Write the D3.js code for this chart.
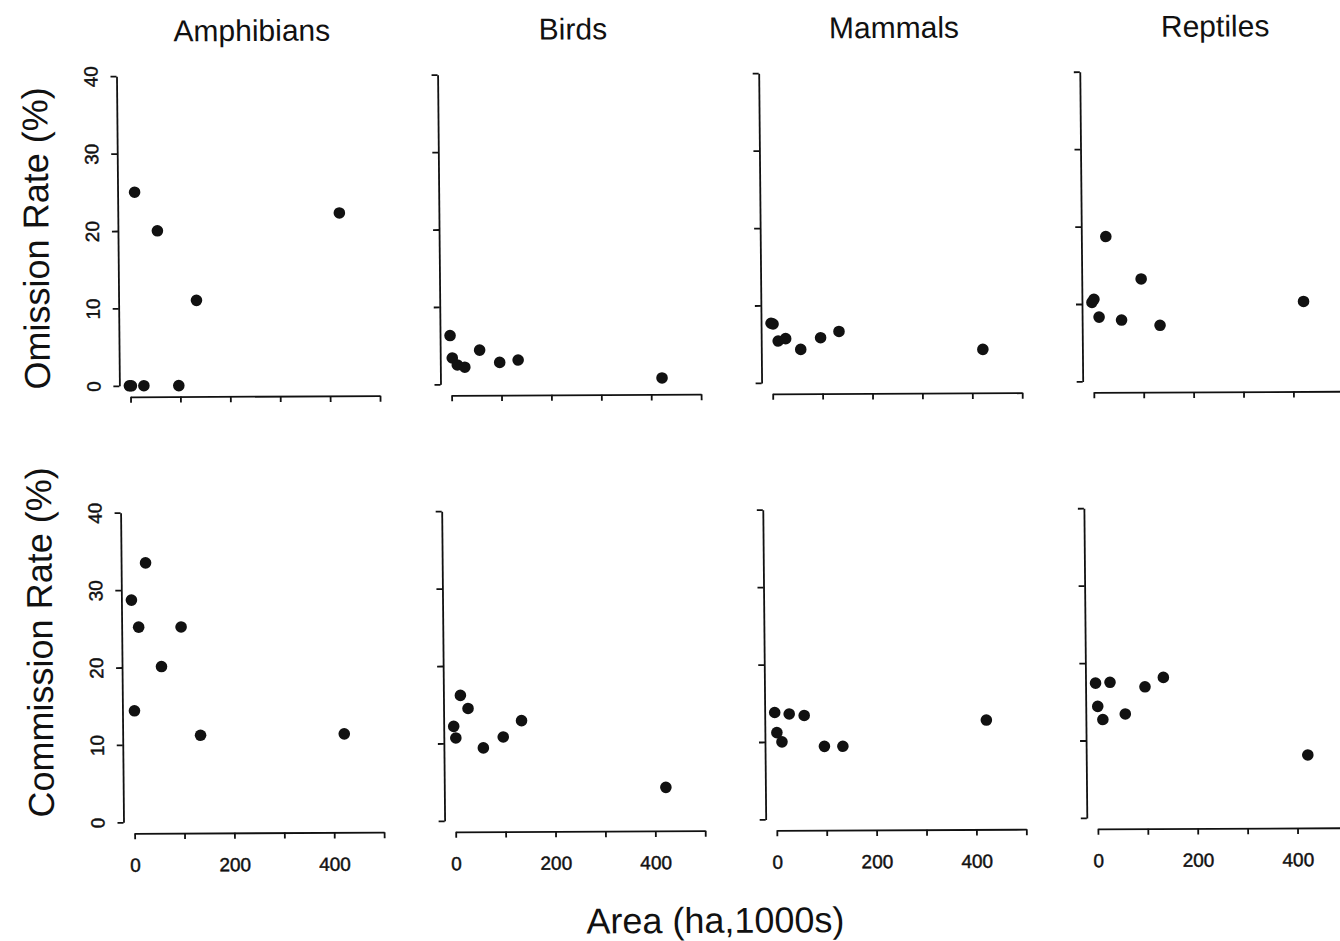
<!DOCTYPE html>
<html>
<head>
<meta charset="utf-8">
<script src="https://cdn.jsdelivr.net/npm/d3@7"></script>
<style>
  body { margin: 0; background: #fff; }
  svg { display: block; }
  text { font-family: "Liberation Sans", Arial, Helvetica, sans-serif; fill: #111; }
  .tick text { stroke: #111; stroke-width: 0.45px; }
</style>
</head>
<body>
<svg id="chart" width="1340" height="941"></svg>
<script>
// ---- data ----------------------------------------------------------------
const GROUPS = ['Amphibians', 'Birds', 'Mammals', 'Reptiles'];
const ROW_LABELS = ['Omission Rate (%)', 'Commission Rate (%)'];

// site area (ha, 1000s), same sites in every panel
const AREA = [-2, 2, 12, 27, 57, 97, 134, 422];

// one array per group, in the order of AREA
const OMISSION = [
  [0, 0, 25, 0, 20, 0, 11, 22.2],
  [6.3, 3.4, 2.5, 2.2, 4.4, 2.8, 3.1, 0.7],
  [7.7, 7.6, 5.4, 5.7, 4.3, 5.8, 6.6, 4.2],
  [10.2, 10.6, 8.3, 18.7, 7.9, 13.2, 7.2, 10.2],
];
const COMMISSION = [
  [28.7, 14.4, 25.2, 33.5, 20.1, 25.2, 11.2, 11.3],
  [12.2, 10.7, 16.2, 14.5, 9.4, 10.8, 12.9, 4.2],
  [13.8, 11.2, 10.0, 13.6, 13.4, 9.4, 9.4, 12.7],
  [17.4, 14.4, 12.7, 17.5, 13.4, 16.9, 18.1, 8.0],
];

const X_TICKS = [0, 100, 200, 300, 400, 500];
const X_TICK_LABELS = [0, 200, 400];
const Y_TICKS = [0, 10, 20, 30, 40];

// ---- layout ---------------------------------------------------------------
const COL_X0 = 130.4, COL_STEP = 321.1, X_SPAN = 249.5;   // x(0) of first col, pitch, width of 0..500
const ROW_Y0 = 385.8, ROW_STEP = 436.5, Y_SPAN = 309.7;   // y(0) of first row, pitch, height of 0..40
const AXIS_GAP_Y = 11;   // y-axis line sits left of x(0)
const AXIS_GAP_X = 11;   // x-axis line sits below y(0)

const svg = d3.select('#chart');
svg.append('rect').attr('width', 1340).attr('height', 941).attr('fill', '#fff');

// the original is a slightly skewed scan
const root = svg.append('g')
  .attr('transform', 'matrix(1,-0.0046,0.0094,1,-3.63,0.6)');

function panel(row, col, values) {
  const x0 = COL_X0 + COL_STEP * col;
  const y0 = ROW_Y0 + ROW_STEP * row;
  const x = d3.scaleLinear().domain([0, 500]).range([x0, x0 + X_SPAN]);
  const y = d3.scaleLinear().domain([0, 40]).range([y0, y0 - Y_SPAN]);
  const g = root.append('g').attr('class', 'panel');

  // y axis
  const yAxis = d3.axisLeft(y).tickValues(Y_TICKS).tickSize(6).tickSizeOuter(0)
    .tickFormat(col === 0 ? d3.format('d') : () => '');
  const yg = g.append('g')
    .attr('transform', `translate(${x0 - AXIS_GAP_Y},0)`)
    .call(yAxis);
  yg.selectAll('text')
    .attr('transform', 'rotate(-90)')
    .attr('x', 0).attr('y', -19).attr('dy', 0)
    .attr('text-anchor', 'middle');

  // x axis
  const xAxis = d3.axisBottom(x).tickValues(X_TICKS).tickSize(6).tickSizeOuter(0)
    .tickFormat(d => (row === 1 && X_TICK_LABELS.includes(d)) ? d : '');
  const xg = g.append('g')
    .attr('transform', `translate(0,${y0 + AXIS_GAP_X})`)
    .call(xAxis);
  xg.selectAll('text').attr('y', 38.4).attr('dy', 0);

  [yg, xg].forEach(a => {
    a.attr('font-family', null).attr('font-size', 19);
    a.selectAll('path, line').attr('stroke', '#111').attr('stroke-width', 1.8);
    a.selectAll('text').attr('fill', '#111');
  });

  // points
  g.selectAll('circle')
    .data(values)
    .enter().append('circle')
    .attr('cx', (d, i) => x(AREA[i]))
    .attr('cy', d => y(d))
    .attr('r', 5.8)
    .attr('fill', '#111');

  // column title
  if (row === 0) {
    g.append('text')
      .attr('x', x0 + X_SPAN / 2).attr('y', 41.5)
      .attr('text-anchor', 'middle')
      .attr('font-size', 30)
      .text(GROUPS[col]);
  }
}

GROUPS.forEach((grp, c) => {
  panel(0, c, OMISSION[c]);
  panel(1, c, COMMISSION[c]);
});

// row labels
[238, 642].forEach((cy, r) => {
  root.append('text')
    .attr('transform', `translate(50,${cy}) rotate(-90)`)
    .attr('text-anchor', 'middle')
    .attr('font-size', 36)
    .text(ROW_LABELS[r]);
});

// shared x label
root.append('text')
  .attr('x', 710.3).attr('y', 935.5)
  .attr('text-anchor', 'middle')
  .attr('font-size', 36)
  .text('Area (ha,1000s)');
</script>
</body>
</html>
